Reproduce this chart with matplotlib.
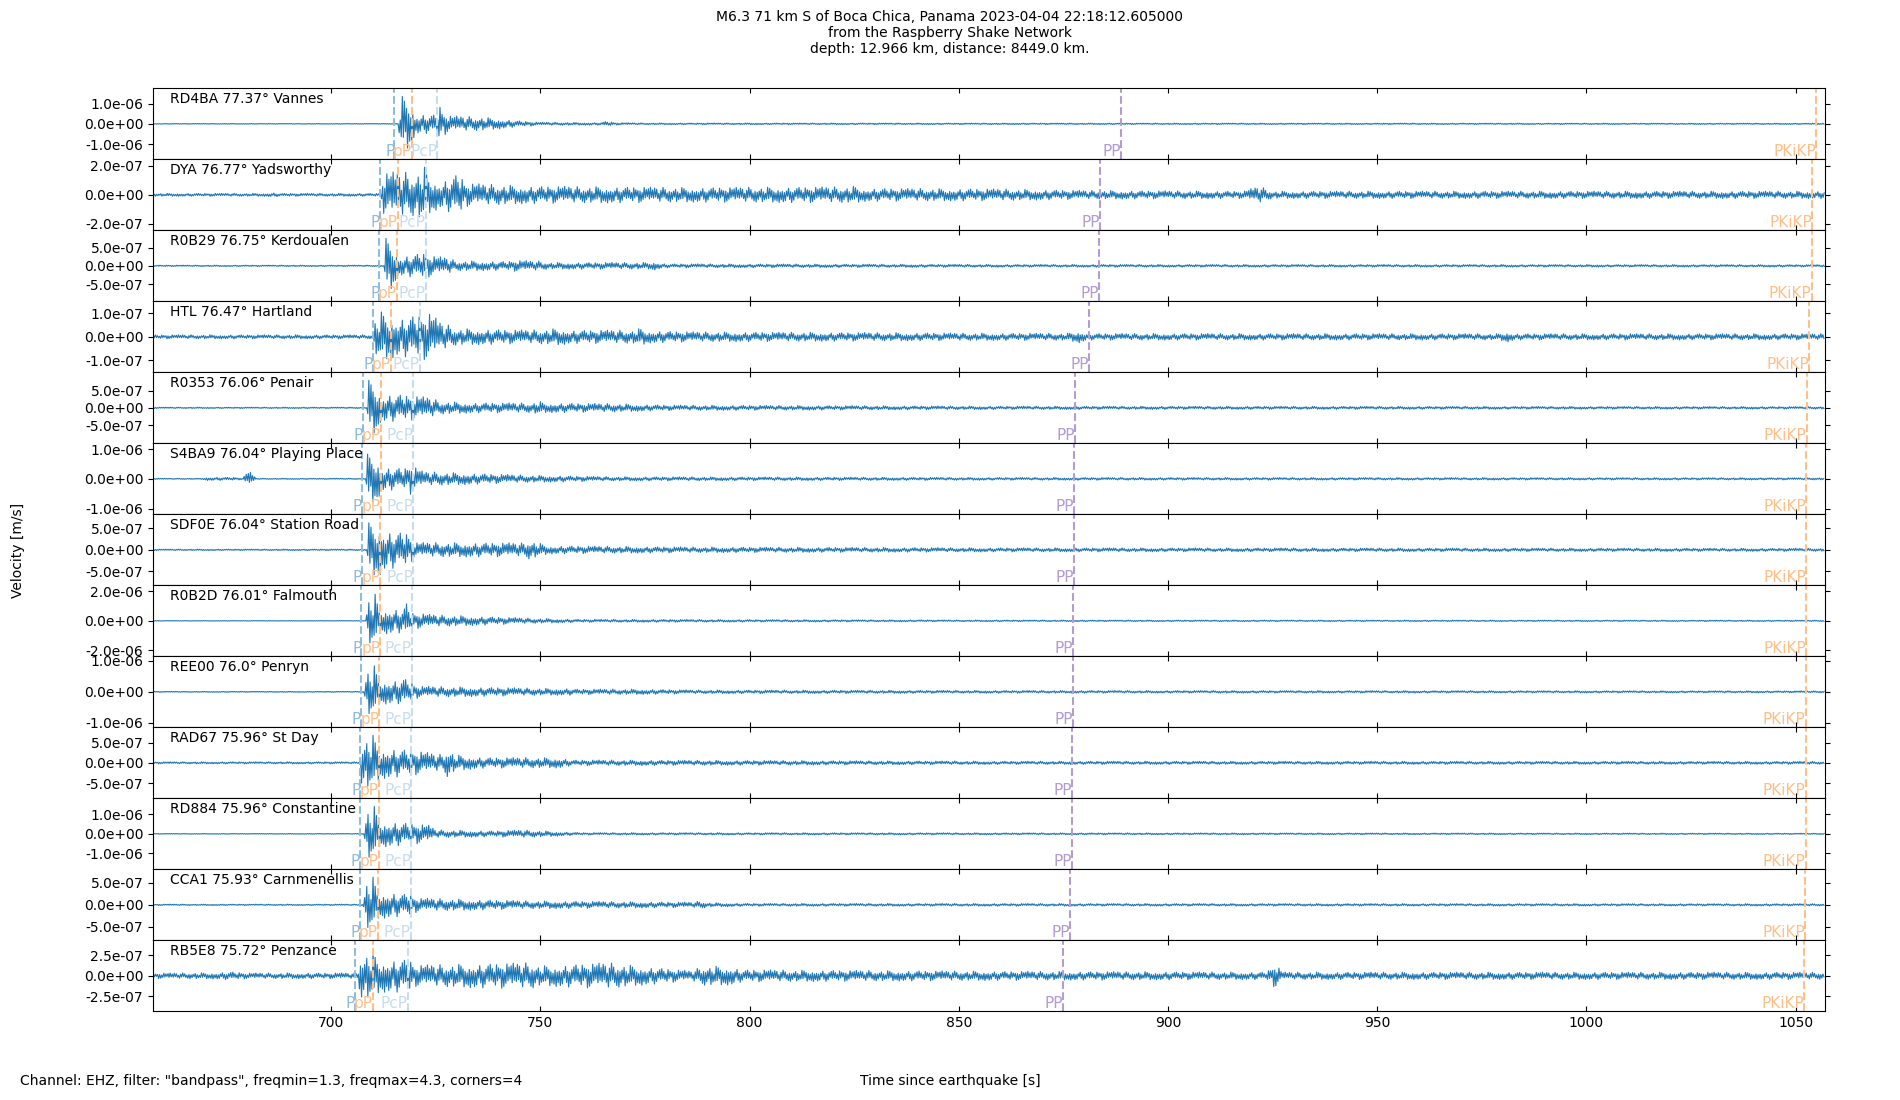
import numpy as np
import matplotlib
matplotlib.use('Agg')
import matplotlib.pyplot as plt
from matplotlib.ticker import FormatStrFormatter

# stations, top to bottom
STATIONS = ['RD4BA 77.37° Vannes', 'DYA 76.77° Yadsworthy', 'R0B29 76.75° Kerdoualen',
            'HTL 76.47° Hartland', 'R0353 76.06° Penair', 'S4BA9 76.04° Playing Place',
            'SDF0E 76.04° Station Road', 'R0B2D 76.01° Falmouth', 'REE00 76.0° Penryn',
            'RAD67 75.96° St Day', 'RD884 75.96° Constantine', 'CCA1 75.93° Carnmenellis',
            'RB5E8 75.72° Penzance']

YLIM = [1.75e-6, 2.45e-7, 9.7e-7, 1.5e-7, 1.03e-6, 1.19e-6, 8.3e-7,
        2.4e-6, 1.15e-6, 8.8e-7, 1.82e-6, 8.1e-7, 4.35e-7]
YTICK = [1e-6, 2e-7, 5e-7, 1e-7, 5e-7, 1e-6, 5e-7, 2e-6, 1e-6, 5e-7, 1e-6, 5e-7, 2.5e-7]

# phase arrival times [s]
P_T = [715.1, 711.7, 711.5, 709.9, 707.5, 707.4, 707.4, 707.2, 707.1, 707.0, 706.9, 706.8, 705.7]
pP_T = [719.3, 715.9, 715.7, 714.2, 711.9, 711.9, 711.7, 711.7, 711.5, 711.4, 711.4, 711.2, 709.9]
PcP_T = [725.3, 722.6, 722.6, 721.2, 719.6, 719.6, 719.6, 719.3, 719.2, 719.1, 719.1, 719.0, 718.3]
PP_T = [888.8, 883.7, 883.5, 881.1, 877.8, 877.6, 877.5, 877.4, 877.3, 877.1, 877.0, 876.6, 875.0]
PKiKP_T = [1054.8, 1053.9, 1053.8, 1053.2, 1052.6, 1052.5, 1052.5, 1052.5, 1052.4, 1052.4,
           1052.4, 1052.3, 1052.0]

# envelope of each trace: times [s] and amplitudes [m/s]
ENV_T = [
    [657.4, 716.0, 716.3, 717.0, 719.0, 720.0, 725.0, 726.0, 726.8, 728.0, 736.0, 740.0, 744.0,
     749.5, 764.0, 766.0, 768.0, 775.0, 860.0, 1057.0],
    [657.4, 684, 686, 688, 712.0, 712.4, 716, 720, 722.3, 723.5, 726, 730.7, 732, 747, 786,
     824, 825, 827, 860, 880, 918, 921.7, 925, 1057],
    [657.4, 712.7, 713.1, 715.0, 716.0, 717, 722, 725, 728, 729.5, 742, 744, 749.5, 752, 776,
     777, 778.5, 780, 860, 1057],
    [657.4, 709.8, 710.3, 712, 716, 720, 723.6, 726, 730, 747, 754.7, 757, 772, 774, 776, 786,
     860, 876, 878.7, 881, 979, 981, 983, 1057],
    [657.4, 708.6, 709.0, 710.8, 711.8, 716, 723.6, 726, 734, 748, 749.5, 751, 767.6, 780, 860,
     1057],
    [657.4, 669, 670.5, 677, 679, 679.6, 680.9, 682, 708.3, 708.7, 710.8, 712, 717.5, 719,
     720.5, 722, 730, 747, 752, 767, 860, 1057],
    [657.4, 708.6, 709.0, 711.5, 713, 718.4, 720, 745.6, 747.5, 749.5, 752, 786, 860, 1057],
    [657.4, 708.3, 708.7, 710.5, 711.5, 717, 718.1, 719, 725, 747, 760, 860, 1057],
    [657.4, 707.9, 708.4, 710.3, 711.5, 716, 717, 718.5, 721, 752, 757, 758.5, 766, 774, 786,
     860, 1057],
    [657.4, 706.9, 707.3, 710, 711.5, 720, 726.5, 728.1, 729.5, 736.5, 754.7, 757.3, 860, 1057],
    [657.4, 707.9, 708.4, 710.3, 711.5, 721, 723.6, 725, 739, 745.6, 760, 860, 1057],
    [657.4, 707.7, 708.2, 710.0, 711.2, 717.5, 718.4, 719.5, 721, 747, 786.5, 788.3, 790, 800,
     860, 1057],
    [657.4, 672, 676, 680, 706.4, 706.9, 710, 711.5, 717.5, 718.4, 720, 748, 750, 766.3, 773,
     786, 789, 796, 798, 860, 923.5, 925.6, 927.5, 1057],
]
ENV_A = [
    [1.5e-8, 1.5e-8, 8e-7, 1.35e-6, 1.2e-6, 5e-7, 4.5e-7, 9e-7, 6e-7, 4e-7, 3.3e-7, 2.5e-7,
     1.6e-7, 8e-8, 6e-8, 1.3e-7, 6e-8, 4e-8, 3.5e-8, 3e-8],
    [1e-8, 1e-8, 1.5e-8, 1e-8, 1e-8, 1.5e-7, 1.6e-7, 1.5e-7, 1.9e-7, 1.3e-7, 9e-8, 1.5e-7,
     8e-8, 6e-8, 5e-8, 5.5e-8, 6e-8, 4.5e-8, 4e-8, 3e-8, 2.5e-8, 6e-8, 2.5e-8, 2.5e-8],
    [1.8e-8, 1.8e-8, 7.5e-7, 6e-7, 3e-7, 2.7e-7, 3.5e-7, 2.5e-7, 2.3e-7, 1.4e-7, 1.2e-7,
     1.5e-7, 1.3e-7, 9e-8, 9e-8, 1.2e-7, 8e-8, 5.5e-8, 3.7e-8, 3.2e-8],
    [8.5e-9, 8.5e-9, 7e-8, 1.05e-7, 8e-8, 9e-8, 1e-7, 6.4e-8, 3.5e-8, 2.8e-8, 3.5e-8, 2.8e-8,
     2.8e-8, 3.6e-8, 2.6e-8, 2.1e-8, 1.5e-8, 1.5e-8, 2.5e-8, 1.4e-8, 1.3e-8, 2.2e-8, 1.3e-8,
     1.3e-8],
    [1.8e-8, 1.8e-8, 8e-7, 7.5e-7, 4e-7, 3.9e-7, 3e-7, 1.9e-7, 1.45e-7, 1.4e-7, 2e-7, 1.4e-7,
     1.2e-7, 7.8e-8, 4.8e-8, 3.5e-8],
    [1.7e-8, 1.7e-8, 5.5e-8, 5e-8, 2e-8, 2.2e-7, 2.2e-7, 1.7e-8, 1.7e-8, 8.3e-7, 8e-7, 4e-7,
     3.5e-7, 5.2e-7, 3.5e-7, 2.4e-7, 2e-7, 1.2e-7, 1.1e-7, 7e-8, 4.5e-8, 3.5e-8],
    [1.6e-8, 1.6e-8, 6.3e-7, 6e-7, 4.5e-7, 3.9e-7, 1.7e-7, 1.6e-7, 2.3e-7, 1.6e-7, 9.4e-8,
     6.5e-8, 4.7e-8, 3.5e-8],
    [1.5e-8, 1.5e-8, 1.6e-6, 1.8e-6, 9e-7, 8e-7, 1.25e-6, 5.6e-7, 4e-7, 1.8e-7, 1e-7, 5e-8,
     4e-8],
    [1.5e-8, 1.5e-8, 7.5e-7, 8.4e-7, 4e-7, 3.8e-7, 4.9e-7, 3.5e-7, 1.8e-7, 1.1e-7, 1.1e-7,
     8.7e-8, 8.7e-8, 8.5e-8, 6e-8, 4.3e-8, 3e-8],
    [2.5e-8, 2.5e-8, 6e-7, 6.8e-7, 4e-7, 3e-7, 2e-7, 4e-7, 2e-7, 1.3e-7, 1.25e-7, 7e-8, 4e-8,
     3.5e-8],
    [1.7e-8, 1.7e-8, 1.3e-6, 1.4e-6, 6.9e-7, 5e-7, 4.3e-7, 2e-7, 1.5e-7, 2e-7, 6e-8, 5e-8,
     3e-8],
    [1.5e-8, 1.5e-8, 5.5e-7, 6.3e-7, 3.2e-7, 2.5e-7, 3.1e-7, 2e-7, 1.5e-7, 9e-8, 6e-8, 9e-8,
     5e-8, 3.2e-8, 3e-8, 2.5e-8],
    [3.3e-8, 3.8e-8, 5e-8, 3.5e-8, 3.5e-8, 2.7e-7, 3e-7, 2e-7, 2e-7, 2.2e-7, 1.3e-7, 1.6e-7,
     1.2e-7, 1.6e-7, 1.2e-7, 6e-8, 1.2e-7, 1.1e-7, 7.4e-8, 5.5e-8, 4.5e-8, 1.5e-7, 4.5e-8,
     4.4e-8],
]

# relative size of successive swings (fixed pattern, cycled along each trace,
# starting at the strongest arrival)
WIGGLE = [1.0, 0.5, 0.85, 0.3, 0.6, 0.95, 0.4, 0.7, 0.25, 0.8, 0.55, 1.0, 0.35, 0.65, 0.45,
          0.9, 0.3, 0.75, 0.5, 0.2, 0.85, 0.6, 0.4, 1.0, 0.3, 0.7, 0.55, 0.25, 0.8, 0.45,
          0.95, 0.35, 0.6, 0.5, 0.3, 0.75, 0.9, 0.4, 0.65, 0.2, 0.55]
HALF_PERIOD = 0.25
XLIM = (657.4, 1056.9)

PHASES = [('P', P_T, '#8fbbdc'), ('pP', pP_T, '#ffbf87'), ('PcP', PcP_T, '#c7ddee'),
          ('PP', PP_T, '#b39bd3'), ('PKiKP', PKiKP_T, '#ffbf87')]

TITLE = ('M6.3 71 km S of Boca Chica, Panama 2023-04-04 22:18:12.605000\n'
         'from the Raspberry Shake Network\n'
         'depth: 12.966 km, distance: 8449.0 km.')
FOOTER = 'Channel: EHZ, filter: "bandpass", freqmin=1.3, freqmax=4.3, corners=4'


def trace(i):
    t_peak = ENV_T[i][int(np.argmax(ENV_A[i]))]
    k0 = int(np.ceil((XLIM[0] - t_peak) / HALF_PERIOD))
    k1 = int(np.floor((XLIM[1] - t_peak) / HALF_PERIOD))
    k = np.arange(k0, k1 + 1)
    t = t_peak + k * HALF_PERIOD
    w = np.array(WIGGLE)[k % len(WIGGLE)]
    sign = np.where(k % 2 == 0, 1.0, -1.0)
    env = np.interp(t, ENV_T[i], ENV_A[i])
    return t, sign * w * env


def main():
    fig, axes = plt.subplots(len(STATIONS), 1, sharex=True, figsize=(19, 11), dpi=100)
    fig.subplots_adjust(left=0.0805, right=0.9603, top=0.9197, bottom=0.0806, hspace=0)

    for i, ax in enumerate(axes):
        t, v = trace(i)
        ax.plot(t, v, color='#1f77b4', lw=0.8)
        lim = YLIM[i]
        ax.set_ylim(-lim, lim)
        ax.set_yticks([-YTICK[i], 0, YTICK[i]])
        ax.yaxis.set_major_formatter(FormatStrFormatter('%.1e'))
        ax.tick_params(axis='y', right=True)
        ax.tick_params(axis='x', direction='in', top=True)
        ax.text(0.01, 0.95, STATIONS[i], transform=ax.transAxes, ha='left', va='top',
                fontsize=10)
        for name, times, col in PHASES:
            ax.axvline(times[i], color=col, ls='--', lw=1.5)
            ax.text(times[i], -lim, name, color=col, ha='right', va='bottom', fontsize=11)
    axes[0].set_xlim(*XLIM)
    axes[-1].set_xticks([700, 750, 800, 850, 900, 950, 1000, 1050])

    fig.suptitle(TITLE, y=0.991, fontsize=10)
    fig.text(0.0095, 0.5, 'Velocity [m/s]', rotation=90, ha='center', va='center')
    fig.text(0.0103, 0.0173, FOOTER, ha='left', va='center')
    fig.text(0.5, 0.0173, 'Time since earthquake [s]', ha='center', va='center')

    fig.savefig('out.png', dpi=100)


if __name__ == '__main__':
    main()
